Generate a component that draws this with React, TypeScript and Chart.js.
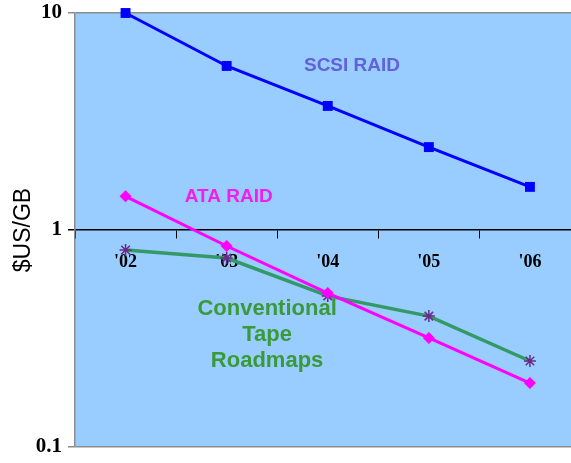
import { useEffect, useRef } from "react";
import { Chart, registerables } from "chart.js";

Chart.register(...registerables);

const years = ["'02", "'03", "'04", "'05", "'06"];
const scsiRaid = [10, 5.7, 3.73, 2.41, 1.58];
const ataRaid = [1.43, 0.844, 0.512, 0.318, 0.197];
const tapeRoadmaps = [0.809, 0.743, 0.497, 0.401, 0.249];
const yTickValues = [0.1, 1, 10];
const seriesLabelLines = [["SCSI RAID"], ["ATA RAID"], ["Conventional", "Tape", "Roadmaps"]];
// label anchors in data space (category index, value of middle line)
const labelAnchorIndex = [2.24, 1.02, 1.4];
const labelAnchorValue = [5.7, 1.43, 0.328];
const labelColors = ["#6262d8", "#f01ef0", "#3a9a3a"];
const labelSizes = [19, 19, 22];

const plotBackground = {
  id: "plotBackground",
  beforeDraw(chart: any) {
    const { ctx, chartArea } = chart;
    ctx.save();
    ctx.fillStyle = "#99ccff";
    ctx.fillRect(chartArea.left, chartArea.top, chartArea.right - chartArea.left, chartArea.bottom - chartArea.top);
    ctx.restore();
  },
};

const seriesLabels = {
  id: "seriesLabels",
  afterDatasetsDraw(chart: any) {
    const { ctx } = chart;
    const xs = chart.scales.x;
    const ys = chart.scales.y;
    ctx.save();
    ctx.textAlign = "center";
    ctx.textBaseline = "middle";
    seriesLabelLines.forEach((lines, i) => {
      const cx = xs.getPixelForValue(labelAnchorIndex[i]);
      const cy = ys.getPixelForValue(labelAnchorValue[i]);
      const lh = labelSizes[i] * 1.17;
      ctx.font = `bold ${labelSizes[i]}px "Liberation Sans", Arial, sans-serif`;
      ctx.fillStyle = labelColors[i];
      const n = lines.length;
      lines.forEach((t, k) => {
        ctx.fillText(t, cx, cy + (k - (n - 1) / 2) * lh);
      });
    });
    ctx.restore();
  },
};

export default function App() {
  const ref = useRef<HTMLCanvasElement | null>(null);
  useEffect(() => {
    if (!ref.current) return;
    const chart = new Chart(ref.current, {
      type: "line",
      data: {
        labels: years,
        datasets: [
          {
            label: "SCSI RAID",
            data: scsiRaid,
            borderColor: "#0000ff",
            backgroundColor: "#0000ff",
            borderWidth: 3,
            pointStyle: "rect",
            pointRadius: 7,
            pointBorderWidth: 0,
            tension: 0,
            clip: false,
          },
          {
            label: "ATA RAID",
            data: ataRaid,
            borderColor: "#ff00ff",
            backgroundColor: "#ff00ff",
            borderWidth: 3,
            pointStyle: "rectRot",
            pointRadius: 6,
            pointBorderWidth: 0,
            tension: 0,
            clip: false,
          },
          {
            label: "Conventional Tape Roadmaps",
            data: tapeRoadmaps,
            borderColor: "#339966",
            backgroundColor: "#6a2a8a",
            pointBorderColor: "#6a2a8a",
            borderWidth: 3.5,
            pointStyle: "star",
            pointRadius: 6,
            pointBorderWidth: 1.5,
            tension: 0,
            clip: false,
          },
        ],
      },
      options: {
        responsive: false,
        animation: false,
        events: [],
        layout: { padding: { top: 13, bottom: 16, left: 0, right: 0 } },
        plugins: { legend: { display: false }, tooltip: { enabled: false } },
        scales: {
          x: {
            type: "category",
            position: { y: 1 } as any,
            offset: true,
            grid: {
              display: true,
              drawOnChartArea: false,
              offset: true,
              tickLength: 8,
              color: "#000000",
              lineWidth: 1,
            },
            border: { color: "#000000", width: 1.5 },
            ticks: {
              color: "#000000",
              padding: 14,
              maxRotation: 0,
              autoSkip: false,
              font: { family: '"Liberation Serif", "Times New Roman", serif', size: 18, weight: "bold" },
            },
          },
          y: {
            type: "logarithmic",
            position: "left",
            min: 0.1,
            max: 10,
            afterBuildTicks: (scale: any) => {
              scale.ticks = yTickValues.map((v) => ({ value: v }));
            },
            afterFit: (scale: any) => {
              scale.width = 75;
            },
            grid: {
              display: true,
              drawOnChartArea: true,
              tickLength: 7,
              color: (c: any) => (c.tick && c.tick.value === 1 ? "rgba(0,0,0,0)" : "#8c8c8c"),
              tickColor: (c: any) => (c.tick && c.tick.value === 1 ? "#000000" : "#8c8c8c"),
              lineWidth: 1.5,
            },
            border: { color: "#8c8c8c", width: 1.5 },
            title: {
              display: true,
              text: "$US/GB",
              color: "#000000",
              padding: { top: 10, bottom: 0 },
              font: { family: '"Liberation Sans", Arial, sans-serif', size: 23, weight: "normal" },
            },
            ticks: {
              color: "#000000",
              padding: 6,
              autoSkip: false,
              callback: (v: any) => String(v),
              font: { family: '"Liberation Serif", "Times New Roman", serif', size: 21, weight: "bold", lineHeight: 0.6 },
            },
          },
        },
      },
      plugins: [plotBackground, seriesLabels],
    });
    return () => chart.destroy();
  }, []);
  return (
    <div style={{ position: "fixed", left: 0, top: 0, width: 571, height: 463, overflow: "hidden", background: "#ffffff" }}>
      <canvas ref={ref} width={588} height={463} style={{ display: "block", width: 588, height: 463 }} />
    </div>
  );
}
